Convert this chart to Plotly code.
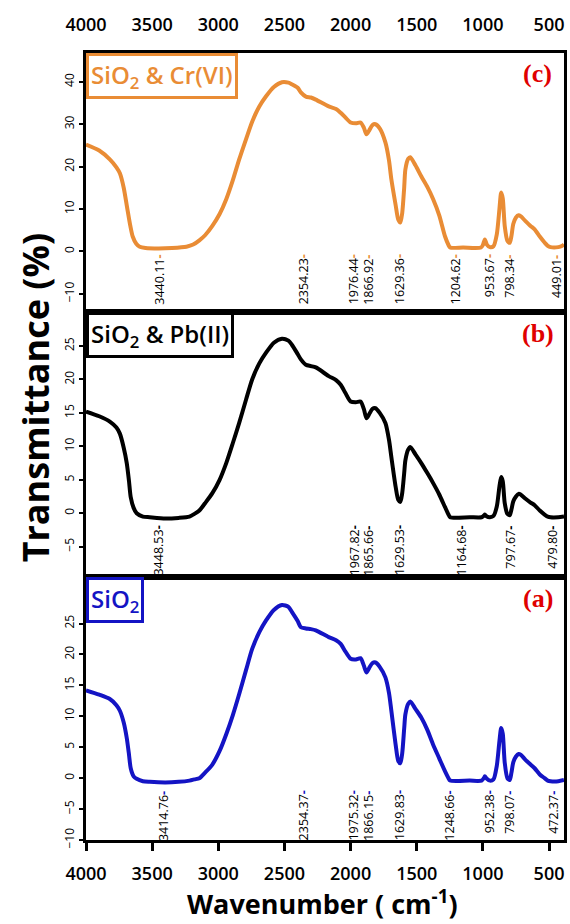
import plotly.graph_objects as go

# ---------------- data ----------------
wn_c = [4000, 3900, 3820, 3770, 3744, 3715, 3690, 3665, 3647, 3620, 3594, 3550, 3450, 3350, 3241, 3190, 3143, 3100,
        3045, 2990, 2940, 2890, 2842, 2790, 2744, 2690, 2639, 2580, 2519, 2470, 2444, 2400, 2376, 2338, 2300, 2263,
        2165, 2110, 2075, 2040, 2000, 1960, 1925, 1900, 1880, 1860, 1835, 1812, 1780, 1737, 1710, 1692, 1660, 1640,
        1624, 1610, 1595, 1586, 1565, 1549, 1510, 1466, 1420, 1376, 1330, 1286, 1260, 1248, 1150, 1015, 1000, 985,
        970, 947, 920, 895, 875, 862, 850, 835, 815, 797, 785, 770, 750, 730, 715, 680, 640, 609, 570, 534, 510, 489,
        430, 400, 387]
t_c = [25.2, 23.8, 21.7, 19.8, 18.4, 15.0, 10.5, 6.0, 3.5, 1.8, 1.1, 0.8, 0.7, 0.8, 1.1, 1.6, 2.6, 3.8,
       6.0, 8.8, 12.3, 16.8, 21.7, 26.5, 30.6, 34.2, 36.6, 38.8, 39.9, 39.8, 39.4, 38.6, 37.5, 36.5, 36.3, 35.8,
       34.2, 33.6, 32.7, 31.6, 30.4, 30.2, 30.4, 29.2, 27.6, 28.5, 29.8, 30.0, 29.0, 25.7, 21.5, 17.0, 11.0, 7.5,
       6.8, 9.0, 15.0, 19.3, 21.8, 22.2, 20.3, 17.7, 15.2, 12.3, 8.5, 3.5, 1.5, 0.9, 0.9, 0.9, 1.5, 2.8,
       1.6, 1.0, 1.2, 4.0, 10.0, 13.9, 12.5, 6.0, 2.5, 2.0, 3.5, 6.5, 8.0, 8.5, 8.3, 7.2, 6.0, 5.2, 3.5, 2.1, 1.3, 1.0,
       1.0, 1.3, 1.6]

wn_b = [4000, 3900, 3820, 3770, 3744, 3715, 3692, 3675, 3662, 3640, 3617, 3570, 3519, 3400, 3300, 3218, 3180, 3143,
        3100, 3045, 2990, 2940, 2890, 2842, 2790, 2744, 2690, 2639, 2580, 2519, 2470, 2444, 2400, 2376, 2338, 2300,
        2263, 2165, 2110, 2075, 2040, 2000, 1960, 1925, 1900, 1880, 1860, 1835, 1812, 1780, 1737, 1710, 1692, 1660,
        1640, 1624, 1610, 1595, 1586, 1565, 1549, 1510, 1466, 1420, 1376, 1330, 1286, 1260, 1248, 1100, 1010, 990,
        985, 970, 947, 920, 895, 875, 862, 850, 835, 815, 797, 785, 770, 750, 730, 715, 680, 640, 609, 570, 534, 510,
        489, 430, 387]
t_b = [15.2, 14.5, 13.7, 12.8, 11.9, 9.8, 7.5, 4.8, 2.4, 0.8, 0.0, -0.5, -0.6, -0.8, -0.7, -0.5, -0.1, 0.4,
       1.5, 3.0, 5.0, 7.5, 10.5, 13.5, 17.0, 20.0, 22.4, 24.0, 25.5, 26.1, 25.8, 25.2, 23.8, 23.0, 22.2, 22.0,
       21.8, 20.5, 19.9, 19.2, 18.0, 16.7, 16.6, 16.7, 15.6, 14.2, 14.8, 15.6, 15.7, 15.0, 13.5, 11.0, 8.4, 4.0,
       2.0, 1.7, 3.0, 6.0, 7.9, 9.5, 9.9, 8.8, 7.5, 6.0, 4.5, 2.8, 0.9, -0.2, -0.6, -0.6, -0.6, -0.3,
       -0.2, -0.5, -0.6, -0.4, 1.0, 4.0, 5.4, 4.8, 1.5, -0.1, -0.3, 0.5, 1.8, 2.5, 2.9, 2.8, 2.2, 1.6, 1.2, 0.4, -0.2, -0.5,
       -0.6, -0.6, -0.5]

wn_a = [4000, 3900, 3820, 3770, 3744, 3715, 3692, 3675, 3662, 3640, 3617, 3570, 3519, 3400, 3300, 3218, 3180, 3143,
        3100, 3045, 2990, 2940, 2890, 2842, 2790, 2744, 2690, 2639, 2580, 2519, 2470, 2444, 2400, 2376, 2338, 2300,
        2263, 2165, 2110, 2075, 2040, 2000, 1960, 1925, 1900, 1880, 1860, 1835, 1812, 1780, 1737, 1710, 1692, 1660,
        1640, 1624, 1610, 1595, 1586, 1565, 1549, 1510, 1466, 1420, 1376, 1330, 1286, 1260, 1248, 1100, 1010, 990,
        985, 970, 947, 920, 895, 875, 862, 850, 835, 815, 797, 785, 770, 750, 730, 715, 680, 640, 609, 570, 534, 510,
        489, 430, 387]
t_a = [14.2, 13.5, 12.8, 11.8, 10.9, 9.0, 6.5, 3.8, 1.6, 0.3, -0.1, -0.5, -0.6, -0.7, -0.6, -0.4, -0.2, 0.0,
       0.9, 2.2, 4.4, 7.1, 10.2, 13.6, 17.5, 20.9, 23.6, 25.5, 27.2, 28.0, 27.7, 26.9, 25.4, 24.4, 24.2, 24.1,
       23.9, 22.8, 22.3, 21.7, 20.5, 19.3, 19.2, 19.4, 18.2, 17.1, 17.8, 18.6, 18.7, 18.0, 16.3, 13.8, 10.9, 5.5,
       2.8, 2.4, 4.0, 8.0, 10.3, 12.0, 12.4, 11.2, 9.8, 7.8, 5.4, 3.2, 1.1, 0.0, -0.4, -0.4, -0.4, 0.1,
       0.3, -0.1, -0.4, -0.2, 2.0, 6.0, 8.1, 7.2, 2.5, 0.0, -0.3, 0.8, 2.6, 3.5, 3.9, 3.8, 3.0, 2.2, 1.6, 0.6, 0.0, -0.4,
       -0.5, -0.5, -0.3]

peaks_c = ["3440.11", "2354.23", "1976.44", "1866.92", "1629.36", "1204.62", "953.67", "798.34", "449.01"]
peaks_b = ["3448.53", "1967.82", "1865.66", "1629.53", "1164.68", "797.67", "479.80"]
peaks_a = ["3414.76", "2354.37", "1975.32", "1866.15", "1629.83", "1248.66", "952.38", "798.07", "472.37"]

x_ticks = [4000, 3500, 3000, 2500, 2000, 1500, 1000, 500]
y_ticks_c = [-10, 0, 10, 20, 30, 40]
y_ticks_b = [-5, 0, 5, 10, 15, 20, 25]
y_ticks_a = [-10, -5, 0, 5, 10, 15, 20, 25]

names = ["SiO<sub>2</sub> & Cr(VI)", "SiO<sub>2</sub> & Pb(II)", "SiO<sub>2</sub>"]
letters = ["(c)", "(b)", "(a)"]

# ---------------- style ----------------
ORANGE = "#E98C35"
BLACK = "#000000"
BLUE = "#1414C4"
RED = "#E00000"
FONT = "Open Sans"

fig = go.Figure()
fig.add_trace(go.Scatter(x=wn_a, y=t_a, mode="lines", line=dict(color=BLUE, width=4, shape="spline", smoothing=0.7),
                         xaxis="x", yaxis="y", showlegend=False))
fig.add_trace(go.Scatter(x=wn_b, y=t_b, mode="lines", line=dict(color=BLACK, width=4, shape="spline", smoothing=0.7),
                         xaxis="x2", yaxis="y2", showlegend=False))
fig.add_trace(go.Scatter(x=wn_c, y=t_c, mode="lines", line=dict(color=ORANGE, width=4, shape="spline", smoothing=0.7),
                         xaxis="x3", yaxis="y3", showlegend=False))

xrange = [4000, 387]
common_x = dict(range=xrange, showgrid=False, zeroline=False, showline=True, mirror=True,
                linewidth=3, linecolor="black", tickvals=x_ticks,
                tickfont=dict(family=FONT, size=18, color="black", weight=600))
common_y = dict(showgrid=False, zeroline=False, showline=True, mirror=True, linewidth=3, linecolor="black",
                ticks="outside", ticklen=4, tickwidth=1.5, tickcolor="black", tickangle=-90,
                tickfont=dict(family=FONT, size=12, color="black"))

fig.update_layout(
    width=570, height=924,
    margin=dict(l=86, r=3, t=53, b=84),
    paper_bgcolor="white", plot_bgcolor="white",
    xaxis=dict(**common_x, anchor="y", ticks="outside", ticklen=8, tickwidth=2.5, tickcolor="black",
               ticklabelstandoff=7),
    xaxis2=dict(**common_x, anchor="y2", matches="x", showticklabels=False, ticks=""),
    xaxis3=dict(**common_x, anchor="y3", matches="x", side="top", ticks="", ticklabelstandoff=12),
    yaxis=dict(**common_y, domain=[0, 0.334], range=[-10, 32.5], tickvals=y_ticks_a),
    yaxis2=dict(**common_y, domain=[0.3345, 0.671], range=[-9.5, 30.1], tickvals=y_ticks_b),
    yaxis3=dict(**common_y, domain=[0.6715, 1], range=[-14.2, 46.8], tickvals=y_ticks_c),
)

ann = []
panels = [("x3", "y3", peaks_c, ORANGE, -0.3), ("x2", "y2", peaks_b, BLACK, -1.55), ("x", "y", peaks_a, BLUE, -1.7)]
for i, (xr, yr, peaks, col, ytop) in enumerate(panels):
    for p in peaks:
        ann.append(dict(x=float(p), y=ytop, xref=xr, yref=yr, showarrow=False, textangle=-90,
                        xanchor="center", yanchor="top",
                        text=p + "<span style='color:%s'><b>-</b></span>" % col,
                        font=dict(family=FONT, size=12.5, color="black")))
    ann.append(dict(x=0, y=1, xref=xr + " domain", yref=yr + " domain", xanchor="left", yanchor="top",
                    showarrow=False, text=names[i], bordercolor=col, borderwidth=3, borderpad=2,
                    bgcolor="white", font=dict(family=FONT, size=24, color=col, weight=600)))
    ann.append(dict(x=0.945, y=0.92, xref=xr + " domain", yref=yr + " domain", xanchor="center", yanchor="middle",
                    showarrow=False, text="<b>%s</b>" % letters[i],
                    font=dict(family="Liberation Serif", size=26, color=RED)))

ann.append(dict(x=-0.106, y=0.5616, xref="paper", yref="paper", showarrow=False, textangle=-90,
                text="<b>Transmittance (%)</b>", font=dict(family=FONT, size=36, color="black"),
                xanchor="center", yanchor="middle"))
ann.append(dict(x=0.495, y=-0.1067, xref="paper", yref="paper", showarrow=False,
                text="<b>Wavenumber ( cm<sup>-1</sup>)</b>", font=dict(family=FONT, size=27, color="black"),
                xanchor="center", yanchor="bottom"))
fig.update_layout(annotations=ann)

fig.write_html("out.html")
